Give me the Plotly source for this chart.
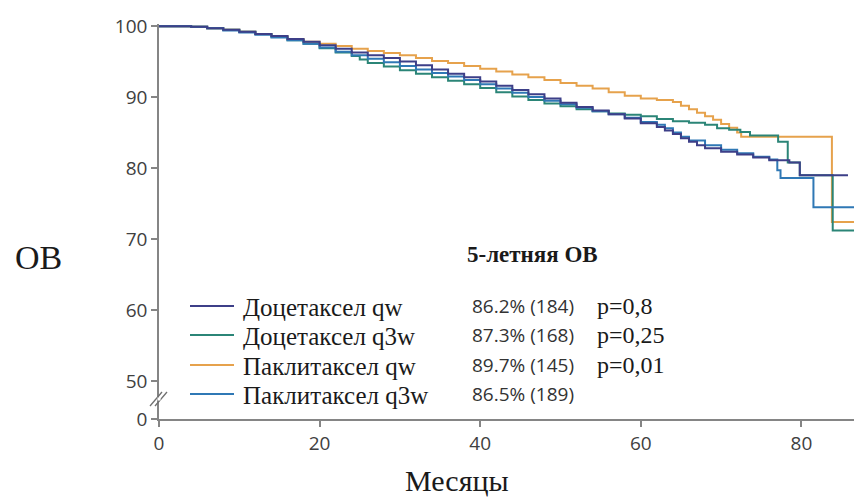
import plotly.graph_objects as go

# ---------------- data ----------------
series_names = ["Доцетаксел qw", "Доцетаксел q3w", "Паклитаксел qw", "Паклитаксел q3w"]
series_colors = ["#3d3f88", "#2b8577", "#e6a24c", "#2f78b5"]
five_year = ["86.2% (184)", "87.3% (168)", "89.7% (145)", "86.5% (189)"]
p_values = ["p=0,8", "p=0,25", "p=0,01", ""]

doc_qw_t = [0, 4, 6, 8, 10, 12, 14, 16, 18, 20, 22, 24, 26, 28, 30, 32, 34, 36, 38, 40, 42, 44, 46,
            48, 50, 52, 54, 56, 58, 60, 62, 63, 64, 65, 66, 67, 68, 70, 72, 74, 76, 78.5, 79.8, 85.8]
doc_qw_s = [100, 99.9, 99.7, 99.5, 99.2, 98.9, 98.6, 98.2, 97.8, 97.3, 96.8, 96.3, 95.9, 95.5, 95.0,
            94.5, 93.9, 93.3, 92.8, 92.2, 91.6, 91.0, 90.4, 89.8, 89.2, 88.6, 88.1, 87.6, 87.0, 86.3,
            85.8, 85.3, 84.8, 84.2, 83.7, 83.2, 82.8, 82.3, 81.9, 81.5, 81.1, 80.8, 79.0, 79.0]

doc_q3w_t = [0, 4, 6, 8, 10, 12, 14, 16, 18, 20, 22, 24, 25, 26, 28, 30, 32, 34, 36, 38, 40, 42, 44,
             46, 48, 50, 52, 54, 56, 58, 60, 62, 64, 66, 68, 69.5, 71, 72.4, 73.6, 77.1, 78.3, 79.8,
             83.9, 86.6]
doc_q3w_s = [100, 99.9, 99.7, 99.5, 99.2, 98.9, 98.5, 98.0, 97.5, 96.9, 96.3, 95.8, 95.3, 94.8, 94.3,
             93.8, 93.3, 92.8, 92.3, 91.8, 91.3, 90.7, 90.1, 89.6, 89.1, 88.7, 88.3, 88.0, 87.7, 87.5,
             87.3, 86.9, 86.6, 86.4, 86.1, 85.6, 85.4, 85.1, 84.6, 83.7, 80.8, 79.0, 71.2, 71.2]

pac_qw_t = [0, 4, 6, 8, 10, 12, 14, 16, 18, 20, 22, 24, 26, 28, 30, 32, 34, 36, 38, 40, 42, 44, 46,
            48, 50, 52, 54, 56, 58, 60, 62, 64, 65, 66, 67, 68, 69, 70, 71, 72, 72.5, 83.8, 86.6]
pac_qw_s = [100, 99.9, 99.7, 99.5, 99.2, 98.9, 98.6, 98.2, 97.8, 97.5, 97.2, 96.8, 96.5, 96.2, 95.9,
            95.5, 95.1, 94.8, 94.4, 94.0, 93.6, 93.2, 92.8, 92.4, 92.0, 91.6, 91.2, 90.7, 90.2, 89.8,
            89.6, 89.3, 88.8, 88.3, 87.8, 87.3, 86.8, 86.2, 85.7, 85.0, 84.4, 72.4, 72.4]

pac_q3w_t = [0, 4, 6, 8, 10, 12, 14, 16, 18, 20, 22, 24, 26, 28, 30, 32, 34, 36, 38, 40, 42, 44, 46,
             48, 50, 52, 54, 56, 58, 60, 62, 63, 64, 65, 66, 68, 70, 72, 74, 76, 77, 77.4, 81.5, 86.6]
pac_q3w_s = [100, 99.9, 99.7, 99.4, 99.1, 98.8, 98.4, 98.0, 97.5, 97.0, 96.4, 95.9, 95.4, 94.9, 94.4,
             93.9, 93.4, 92.9, 92.4, 91.8, 91.2, 90.6, 90.0, 89.5, 89.0, 88.5, 88.0, 87.6, 87.1, 86.5,
             86.1, 85.6, 85.0, 84.4, 83.9, 83.2, 82.6, 82.1, 81.6, 81.2, 79.7, 78.6, 74.5, 74.5]

x_ticks = [0, 20, 40, 60, 80]
y_ticks = [50, 60, 70, 80, 90, 100]
y_zero_pos = 44.65   # position where the broken axis shows "0"

# ---------------- layout geometry ----------------
W, H = 854, 499
ML, MR, MT, MB = 159, 0, 24, 80
PW, PH = W - ML - MR, H - MT - MB


def px(x):
    return (x - ML) / PW


def py(y):
    return (H - MB - y) / PH


curves = [(doc_qw_t, doc_qw_s), (doc_q3w_t, doc_q3w_s), (pac_qw_t, pac_qw_s), (pac_q3w_t, pac_q3w_s)]
draw_order = [2, 1, 3, 0]

fig = go.Figure()
for i in draw_order:
    t, s = curves[i]
    fig.add_trace(go.Scatter(x=t, y=s, mode="lines", line=dict(color=series_colors[i], width=2, shape="hv"),
                             name=series_names[i], showlegend=False, hoverinfo="skip"))

SERIF = "Liberation Serif"
SANS = "Open Sans"
TICKFONT = dict(family=SANS, size=19, color="#404040")

fig.update_layout(
    width=W, height=H,
    margin=dict(l=ML, r=MR, t=MT, b=MB, pad=0),
    paper_bgcolor="white", plot_bgcolor="white",
    showlegend=False,
    xaxis=dict(range=[0, PW / 8.03], tickvals=x_ticks, ticktext=[str(v) for v in x_ticks],
               showgrid=False, zeroline=False, showline=True, linecolor="#858585", linewidth=1.5,
               ticks="outside", ticklen=6, tickcolor="#858585", tickwidth=1.5, tickfont=TICKFONT),
    yaxis=dict(range=[y_zero_pos, 100.3], tickvals=[y_zero_pos] + y_ticks,
               ticktext=["0"] + [str(v) for v in y_ticks],
               showgrid=False, zeroline=False, showline=True, linecolor="#858585", linewidth=1.5,
               ticks="outside", ticklen=6, tickcolor="#858585", tickwidth=1.5, tickfont=TICKFONT),
)

shapes = []
# axis break marks "//"
for dx in (0, 5):
    shapes.append(dict(type="line", xref="paper", yref="paper",
                       x0=px(150 + dx), y0=py(406), x1=px(162 + dx), y1=py(392),
                       line=dict(color="#707070", width=1.3)))
shapes.append(dict(type="line", xref="paper", yref="paper", x0=px(159), y0=py(397.5), x1=px(159), y1=py(400.5),
                   line=dict(color="white", width=3)))

rows_y = [306, 335, 365, 394]
annotations = []
for i, name in enumerate(series_names):
    yy = rows_y[i]
    shapes.append(dict(type="line", xref="paper", yref="paper", x0=px(190), x1=px(234), y0=py(yy), y1=py(yy),
                       line=dict(color=series_colors[i], width=2)))
    annotations.append(dict(text=name, xref="paper", yref="paper", x=px(241), y=py(yy + 1), xanchor="left",
                            yanchor="middle", showarrow=False, font=dict(family=SERIF, size=25, color="#1a1a1a")))
    annotations.append(dict(text=five_year[i], xref="paper", yref="paper", x=px(470), y=py(yy), xanchor="left",
                            yanchor="middle", showarrow=False, font=dict(family=SANS, size=19, color="#333333")))
    if p_values[i]:
        annotations.append(dict(text=p_values[i], xref="paper", yref="paper", x=px(595), y=py(yy), xanchor="left",
                                yanchor="middle", showarrow=False, font=dict(family=SERIF, size=24, color="#1a1a1a")))

annotations.append(dict(text="<b>5-летняя ОВ</b>", xref="paper", yref="paper", x=px(465), y=py(254),
                        xanchor="left", yanchor="middle", showarrow=False,
                        font=dict(family=SERIF, size=23, color="#1a1a1a")))
annotations.append(dict(text="ОВ", xref="paper", yref="paper", x=px(38), y=py(257), xanchor="center",
                        yanchor="middle", showarrow=False, font=dict(family=SERIF, size=34, color="#1a1a1a")))
annotations.append(dict(text="Месяцы", xref="paper", yref="paper", x=px(457), y=py(480), xanchor="center",
                        yanchor="middle", showarrow=False, font=dict(family=SERIF, size=30, color="#1a1a1a")))

fig.update_layout(shapes=shapes, annotations=annotations)
fig.write_html("out.html")
